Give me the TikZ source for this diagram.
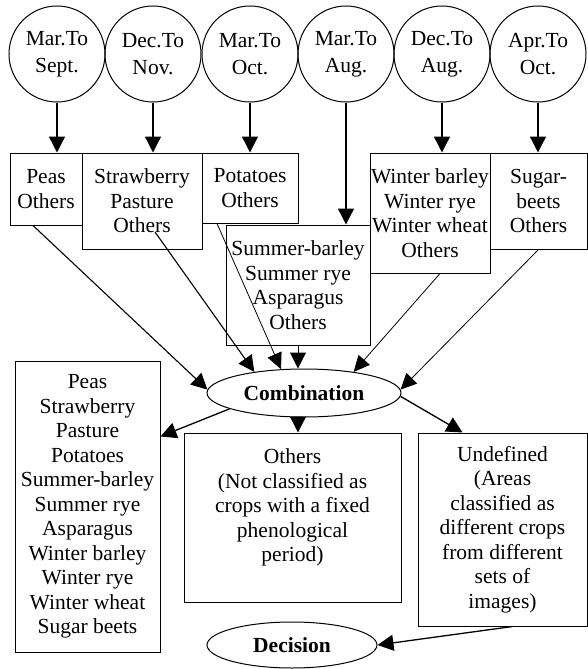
\documentclass[tikz,border=0pt]{standalone}
\usepackage{fontspec}
\setmainfont{Liberation Serif}
\usetikzlibrary{shapes.geometric, arrows.meta, calc}

\begin{document}
\begin{tikzpicture}[x=1pt, y=-1pt,
  period/.style={circle, draw, line width=1pt, minimum size=96pt, inner sep=0pt, align=center, font=\fontsize{21.5}{27}\selectfont},
  crop/.style={rectangle, draw, line width=1pt, inner sep=0pt, align=center, font=\fontsize{21.5}{24.5}\selectfont},
  stage/.style={ellipse, draw, line width=1pt, inner sep=0pt, font=\fontsize{21.5}{24.5}\selectfont\bfseries},
  arr/.style={-{Triangle[length=16pt,width=16pt]}, line width=1.3pt},
  thinarr/.style={-{Triangle[length=16pt,width=15pt]}, line width=0.8pt}]
\useasboundingbox (0,0) rectangle (588,669);
% Phenological periods
\node[period] (c1) at (57,54) {Mar.To\\Sept.};
\node[period] (c2) at (153,54) {Dec.To\\Nov.};
\node[period] (c3) at (250,54) {Mar.To\\Oct.};
\node[period] (c4) at (346,54) {Mar.To\\Aug.};
\node[period] (c5) at (442,54) {Dec.To\\Aug.};
\node[period] (c6) at (538,54) {Apr.To\\Oct.};
% Classified crops per period
\node[crop, minimum width=72pt, minimum height=72pt] (peas) at (46,189) {Peas\\Others};
\node[crop, minimum width=120pt, minimum height=96pt] (straw) at (142,201) {Strawberry\\Pasture\\Others};
\node[crop, minimum width=96pt, minimum height=70pt] (potat) at (250,188) {Potatoes\\Others};
\node[crop, minimum width=144pt, minimum height=120pt] (summer) at (298,285) {Summer-barley\\Summer rye\\Asparagus\\Others};
\node[crop, minimum width=120pt, minimum height=120pt] (winter) at (430,213) {Winter barley\\Winter rye\\Winter wheat\\Others};
\node[crop, minimum width=97pt, minimum height=96pt] (sugar) at (538.5,201) {Sugar-\\beets\\Others};
% Combination and results
\node[stage, minimum width=194pt, minimum height=48pt] (comb) at (304,393) {Combination};
\node[crop, minimum width=145pt, minimum height=291pt] (list) at (87.5,506.5) {Peas\\Strawberry\\Pasture\\Potatoes\\Summer-barley\\Summer rye\\Asparagus\\Winter barley\\Winter rye\\Winter wheat\\Sugar beets};
\node[crop, minimum width=217pt, minimum height=169pt] (others) at (292.5,517.5) {};
\node[crop, draw=none, anchor=north] (otherstxt) at ([yshift=-16pt]others.north) {Others\\(Not classified as\\crops with a fixed\\phenological\\period)};
\node[crop, minimum width=169pt, minimum height=193pt] (undef) at (502.5,529.5) {Undefined\\(Areas\\classified as\\different crops\\from different\\sets of\\images)};
\node[stage, minimum width=170pt, minimum height=46pt] (decis) at (292,645) {Decision};
% Periods to crop sets
\draw[arr] (c1.south) -- (c1.south |- peas.north);
\draw[arr] (c2.south) -- (c2.south |- straw.north);
\draw[arr] (c3.south) -- (c3.south |- potat.north);
\draw[arr] (c4.south) -- (c4.south |- summer.north);
\draw[arr] (c5.south) -- (c5.south |- winter.north);
\draw[arr] (c6.south) -- (c6.south |- sugar.north);
% Crop sets to combination
\draw[arr, line width=1.1pt] ([xshift=-13pt]peas.south) -- (comb.178);
\draw[arr, line width=1.1pt] ([xshift=13pt,yshift=-31pt]straw.center) -- (comb.157);
\draw[thinarr] ([xshift=-33pt]potat.south) -- (comb.134);
\draw[arr, line width=1pt] (summer.south) -- (summer.south |- comb.north);
\draw[thinarr] ([xshift=10pt]winter.south) -- (comb.23);
\draw[thinarr] (sugar.south) -- (comb.2);
% Combination to results
\draw[arr] (comb.192.5) -- ([yshift=-76pt]list.north east);
\draw[arr] (comb.south -| summer.south) -- (summer.south |- others.north);
\draw[arr] (comb.358) -- ([xshift=-40pt]undef.north);
\draw[arr] ([xshift=10pt]undef.south) -- (decis.east);
\end{tikzpicture}
\end{document}
